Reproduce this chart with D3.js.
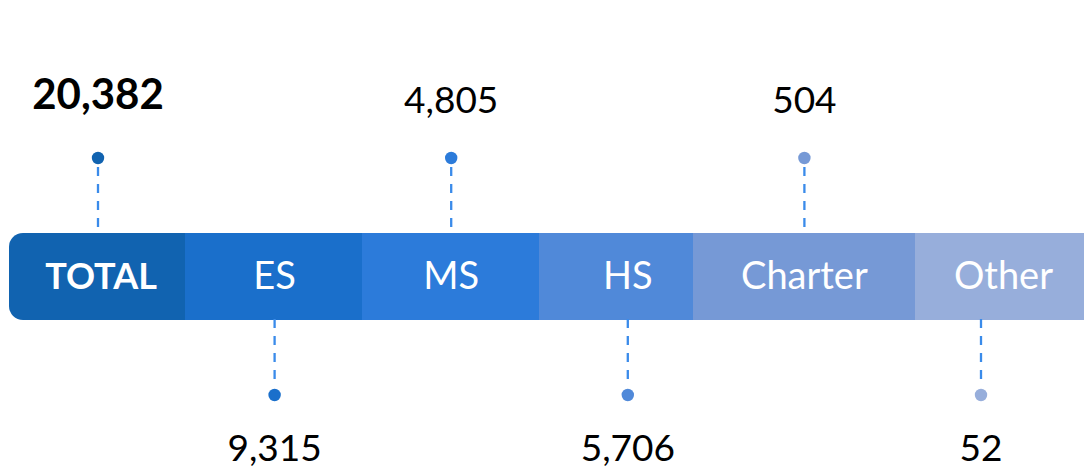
<!DOCTYPE html>
<html>
<head>
<meta charset="utf-8">
<script src="https://cdn.jsdelivr.net/npm/d3@7"></script>
<style>
  html, body { margin: 0; padding: 0; background: #fff; }
  svg { display: block; }
  text { font-family: Lato, "Open Sans", sans-serif; }
</style>
</head>
<body>
<svg id="chart" width="1084" height="470"></svg>
<script>
// ---- data ----
const categories = ["TOTAL", "ES", "MS", "HS", "Charter", "Other"];
const values = [20382, 9315, 4805, 5706, 504, 52];
const colors = ["#1163B0", "#1A6FCB", "#2C7BDA", "#5089D9", "#7699D6", "#97AEDB"];

// ---- layout (not data) ----
const segmentEdges = [9, 185, 362, 539, 693, 915, 1100];
const W = 1084, H = 470;
const bandTop = 233, bandBottom = 320;

const svg = d3.select("#chart");

const x = d3.scalePoint().domain(categories).range([98, 981]);
const fmt = d3.format(",");

// clip for rounded left corners
const defs = svg.append("defs");
defs.append("clipPath").attr("id", "bandClip")
  .append("rect")
  .attr("x", segmentEdges[0]).attr("y", bandTop)
  .attr("width", segmentEdges[segmentEdges.length - 1] - segmentEdges[0])
  .attr("height", bandBottom - bandTop)
  .attr("rx", 14).attr("ry", 14);

const band = svg.append("g").attr("clip-path", "url(#bandClip)");
band.selectAll("rect").data(categories).join("rect")
  .attr("x", (d, i) => segmentEdges[i])
  .attr("y", bandTop)
  .attr("width", (d, i) => segmentEdges[i + 1] - segmentEdges[i] + 0.5)
  .attr("height", bandBottom - bandTop)
  .attr("fill", (d, i) => colors[i]);

// segment labels
const labelX = (d, i) => i === categories.length - 1
  ? (segmentEdges[i] + segmentEdges[i + 1]) / 2 - 4
  : x(d) + (i === 0 ? 3 : 0);

svg.selectAll("text.seg").data(categories).join("text")
  .attr("class", "seg")
  .attr("x", labelX)
  .attr("y", 289)
  .attr("text-anchor", "middle")
  .attr("fill", "#fff")
  .attr("font-size", (d, i) => i === 0 ? 36 : 38)
  .attr("font-weight", (d, i) => i === 0 ? 700 : 400)
  .text(d => d);

// leaders
const above = i => i % 2 === 0;
const leaders = svg.append("g");
categories.forEach((c, i) => {
  const cx = x(c);
  const up = above(i);
  leaders.append("line")
    .attr("x1", cx).attr("x2", cx)
    .attr("y1", up ? 167 : 319)
    .attr("y2", up ? 230 : 386)
    .attr("stroke", "#3A8BEA")
    .attr("stroke-width", 2.3)
    .attr("stroke-dasharray", "9,8");
  leaders.append("circle")
    .attr("cx", cx).attr("cy", up ? 158 : 395)
    .attr("r", 6.2)
    .attr("fill", colors[i]);
  leaders.append("text")
    .attr("x", cx)
    .attr("y", up ? (i === 0 ? 109 : 113) : 461)
    .attr("text-anchor", "middle")
    .attr("fill", "#000")
    .attr("font-size", i === 0 ? 42 : 37)
    .attr("font-weight", i === 0 ? 700 : 400)
    .text(fmt(values[i]));
});
</script>
</body>
</html>
